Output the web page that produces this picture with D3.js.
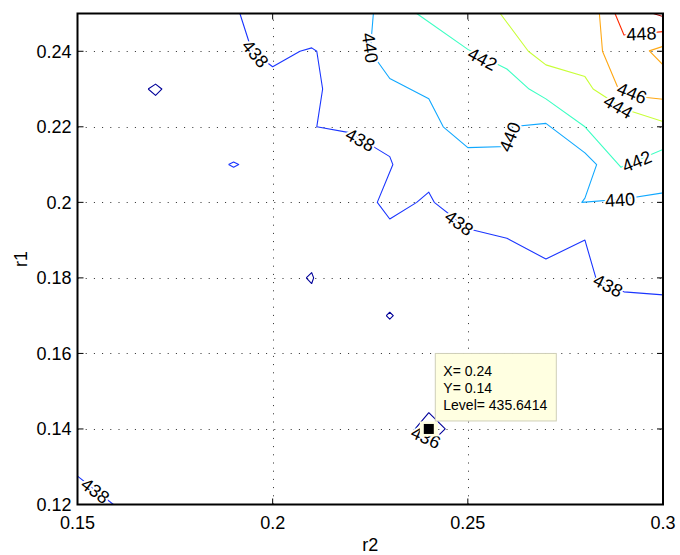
<!DOCTYPE html>
<html><head><meta charset="utf-8">
<script src="https://cdn.jsdelivr.net/npm/d3@7"></script>
<style>body{margin:0;background:#fff}svg{display:block}text{font-family:"Liberation Sans",Arial,Helvetica,sans-serif}</style>
</head><body>
<script>
// ---- data ----
const xTicks = [0.15, 0.2, 0.25, 0.3];
const xTickLabels = ["0.15", "0.2", "0.25", "0.3"];
const yTicks = [0.12, 0.14, 0.16, 0.18, 0.2, 0.22, 0.24];
const yTickLabels = ["0.12", "0.14", "0.16", "0.18", "0.2", "0.22", "0.24"];
const levels = [436, 438, 440, 442, 444, 446, 448, 450];

const c438main = [[0.1916,0.25],[0.1947,0.24],[0.20,0.2359],[0.2070,0.24],[0.21,0.2409],[0.2113,0.24],[0.2128,0.23],[0.2113,0.22],[0.22,0.2184],[0.23,0.2121],[0.2308,0.21],[0.2268,0.20],[0.23,0.1956],[0.2369,0.20],[0.24,0.2027],[0.2414,0.20],[0.25,0.1930],[0.26,0.1905],[0.27,0.1850],[0.28,0.19],[0.2828,0.18],[0.29,0.1763],[0.30,0.1755]];
const c438corner = [[0.15,0.1275],[0.1592,0.12]];
const c438diamond = [[0.1887,0.21],[0.19,0.2107],[0.1913,0.21],[0.19,0.2093],[0.1887,0.21]];
const c436a = [[0.1681,0.23],[0.17,0.2313],[0.1716,0.23],[0.17,0.2283],[0.1681,0.23]];
const c436b = [[0.2086,0.18],[0.21,0.1814],[0.2105,0.18],[0.21,0.1785],[0.2086,0.18]];
const c436c = [[0.2291,0.17],[0.23,0.1709],[0.2309,0.17],[0.23,0.1691],[0.2291,0.17]];
const c436d = [[0.2365,0.14],[0.24,0.1443],[0.2442,0.14],[0.24,0.1358],[0.2365,0.14]];
const c440 = [[0.2258,0.25],[0.2250,0.24],[0.23,0.2328],[0.24,0.2274],[0.2437,0.22],[0.25,0.2145],[0.26,0.2148],[0.2612,0.22],[0.27,0.2209],[0.28,0.2131],[0.283,0.21],[0.28,0.2011],[0.2792,0.20],[0.29,0.2009],[0.30,0.2025]];
const c442 = [[0.2369,0.25],[0.25,0.2405],[0.26,0.2353],[0.2657,0.23],[0.27,0.2274],[0.28,0.22],[0.2892,0.2093],[0.30,0.2140]];
const c444 = [[0.2583,0.25],[0.2655,0.24],[0.27,0.2364],[0.28,0.2333],[0.2821,0.23],[0.29,0.2247],[0.30,0.2214]];
const c446 = [[0.2837,0.25],[0.2845,0.24],[0.2892,0.2285],[0.30,0.2273]];
const c446b = [[0.30,0.2413],[0.2965,0.2401],[0.30,0.2364]];
const c448 = [[0.2877,0.25],[0.29,0.2443],[0.30,0.2452]];
const c450 = [[0.2975,0.25],[0.30,0.2492]];

const contourLevels = [438, 438, 438, 436, 436, 436, 436, 440, 442, 444, 446, 446, 448, 450];
const contourPaths = [c438main, c438corner, c438diamond, c436a, c436b, c436c, c436d, c440, c442, c444, c446, c446b, c448, c450];

const labelValues = [438, 438, 438, 438, 438, 436, 440, 440, 440, 442, 442, 444, 446, 448];
const labelX = [0.1955, 0.2224, 0.2477, 0.2859, 0.1545, 0.2392, 0.2249, 0.2608, 0.2890, 0.2537, 0.2933, 0.2885, 0.2920, 0.2945];
const labelY = [0.2393, 0.2165, 0.1945, 0.1779, 0.1236, 0.1377, 0.2409, 0.2173, 0.2006, 0.2379, 0.2108, 0.2252, 0.2289, 0.2446];
const labelAngle = [50, 28, 36, 27, 37, 25, 82, -68, -4, 28, -22, 30, 22, -3];

const tipX = 0.24, tipY = 0.14, tipLevel = 435.6414;

// ---- style ----
const levelColor = {436:"#000099",438:"#1a35ff",440:"#10a8ff",442:"#3cffc3",444:"#c8ff37",446:"#ffa814",448:"#ff2a00",450:"#a00000"};
const W = 680, H = 555;
const L = 77.5, R = 663, T = 13.5, B = 504.5;

const svg = d3.select("body").append("svg").attr("width", W).attr("height", H);
const x = d3.scaleLinear().domain([0.15, 0.3]).range([L, R]);
const y = d3.scaleLinear().domain([0.12, 0.25]).range([B, T]);

svg.append("clipPath").attr("id","clip").append("rect")
  .attr("x", L).attr("y", T).attr("width", R-L).attr("height", B-T);

// grid
const grid = svg.append("g").attr("stroke","#2a2a2a").attr("stroke-width",1).attr("stroke-dasharray","1,7.2").attr("fill","none");
xTicks.filter(v => v > 0.15 && v < 0.3).forEach(v => {
  grid.append("line").attr("x1", Math.round(x(v))+0.5).attr("x2", Math.round(x(v))+0.5).attr("y1", B).attr("y2", T);
});
yTicks.filter(v => v > 0.12).forEach(v => {
  grid.append("line").attr("y1", Math.round(y(v))+0.5).attr("y2", Math.round(y(v))+0.5).attr("x1", L).attr("x2", R);
});

// contours
const line = d3.line().x(d => x(d[0])).y(d => y(d[1]));
const cg = svg.append("g").attr("clip-path","url(#clip)").attr("fill","none").attr("stroke-width",1.1);
contourPaths.forEach((p, i) => {
  cg.append("path").attr("d", line(p)).attr("stroke", levelColor[contourLevels[i]]).attr("stroke-linejoin","round");
});

// contour labels
const lg = svg.append("g").attr("font-size", 18).attr("text-anchor","middle").attr("dominant-baseline","central");
const tr = i => `translate(${x(labelX[i])},${y(labelY[i])}) rotate(${labelAngle[i]})`;
labelValues.forEach((v, i) => {
  lg.append("text").attr("transform", tr(i)).attr("fill","#fff").attr("stroke","#fff").attr("stroke-width",4).text(v);
});
labelValues.forEach((v, i) => {
  lg.append("text").attr("transform", tr(i)).attr("fill","#000").text(v);
});

// frame and ticks
const ax = svg.append("g").attr("stroke","#000").attr("fill","none");
const tl = 6;
xTicks.forEach(v => {
  ax.append("line").attr("x1", x(v)).attr("x2", x(v)).attr("y1", B).attr("y2", B - tl).attr("stroke-width",1);
  ax.append("line").attr("x1", x(v)).attr("x2", x(v)).attr("y1", T).attr("y2", T + tl).attr("stroke-width",1);
});
yTicks.forEach(v => {
  ax.append("line").attr("y1", y(v)).attr("y2", y(v)).attr("x1", L).attr("x2", L + tl).attr("stroke-width",1);
  ax.append("line").attr("y1", y(v)).attr("y2", y(v)).attr("x1", R).attr("x2", R - tl).attr("stroke-width",1);
});
ax.append("rect").attr("x", L).attr("y", T).attr("width", R-L).attr("height", B-T).attr("stroke-width", 2);

// tick labels
const tg = svg.append("g").attr("font-size", 18).attr("fill","#000");
xTicks.forEach((v, i) => {
  tg.append("text").attr("x", x(v)).attr("y", B + 24).attr("text-anchor","middle").text(xTickLabels[i]);
});
yTicks.forEach((v, i) => {
  tg.append("text").attr("x", L - 6).attr("y", y(v)).attr("dy","0.35em").attr("text-anchor","end").text(yTickLabels[i]);
});
tg.append("text").attr("x", (L+R)/2).attr("y", 551).attr("text-anchor","middle").text("r2");
tg.append("text").attr("transform", `translate(27,${(T+B)/2}) rotate(-90)`).attr("text-anchor","middle").text("r1");

// data tip
const px = x(tipX), py = y(tipY);
svg.append("rect").attr("x", px-9).attr("y", py-7.5).attr("width", 18).attr("height", 15).attr("fill","#ffffe1");
svg.append("rect").attr("x", px-5).attr("y", py-5).attr("width", 10).attr("height", 10).attr("fill","#000");
const bx = px + 6.5, by = py - 75.5;
svg.append("rect").attr("x", bx).attr("y", by).attr("width", 121).attr("height", 67.5)
  .attr("fill","#ffffe1").attr("stroke","#cfcfb8").attr("stroke-width",1);
const tipLines = [`X= ${tipX}`, `Y= ${tipY}`, `Level= ${tipLevel}`];
tipLines.forEach((s, i) => {
  svg.append("text").attr("x", bx + 8).attr("y", by + 22.5 + i*17).attr("font-size", 14).attr("fill","#000").text(s);
});
</script>
</body></html>
